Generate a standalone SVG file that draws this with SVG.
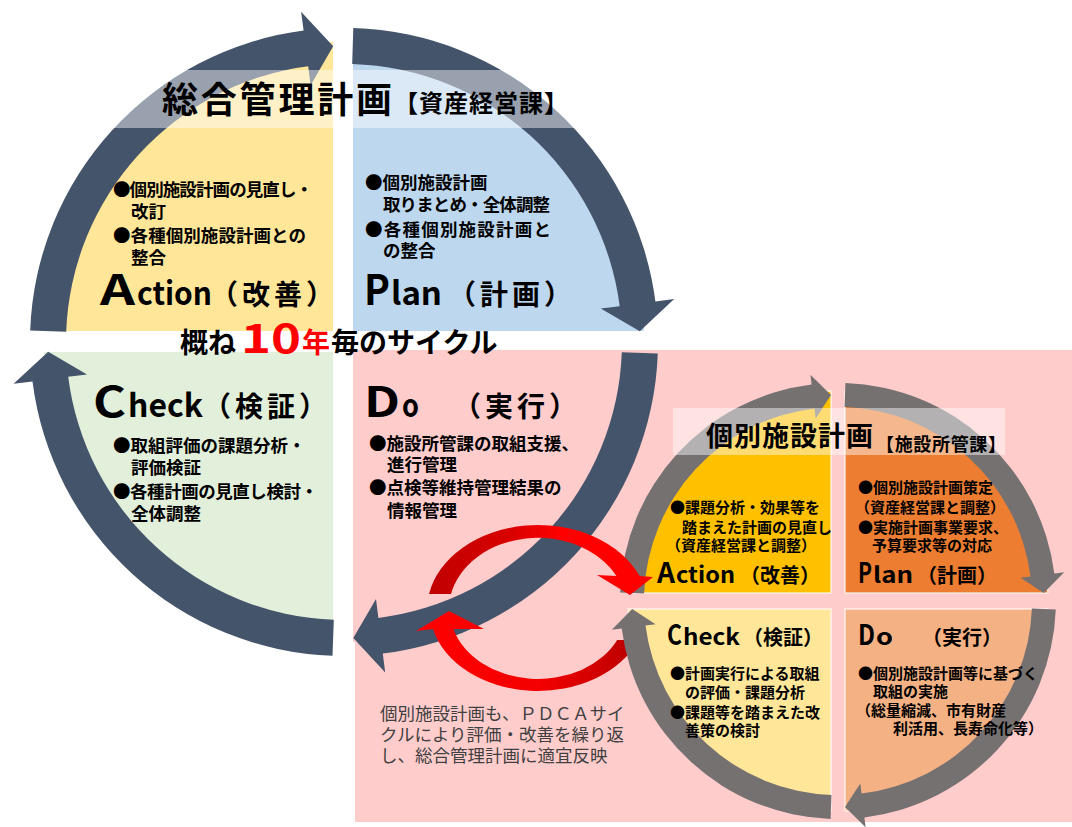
<svg xmlns="http://www.w3.org/2000/svg" width="1072" height="827" viewBox="0 0 1072 827">
<style>
.t{font-family:"Noto Sans CJK JP","Noto Sans",sans-serif;font-weight:700;fill:#000}
.b17{font-size:17.5px}
.b15{font-size:15px}
.cap{font-size:42px}
.low{font-size:32px}
.par{font-size:28px}
.scap{font-size:28px}
.slow{font-size:22px}
.spar{font-size:20px}
.ring{fill:#44546a}
.gring{fill:#767171}
.band{fill:#fff;fill-opacity:.45}
.sq{stroke:#fff;stroke-opacity:.7;stroke-width:1.5}
.note{font-family:"Noto Sans CJK JP","Noto Sans",sans-serif;font-size:17.5px;fill:#404040}
</style>
<defs>
<linearGradient id="redUp" x1="0" y1="0" x2="1" y2="0">
<stop offset="0" stop-color="#c00000"/><stop offset="0.35" stop-color="#d80000"/><stop offset="0.6" stop-color="#ff0000"/><stop offset="1" stop-color="#ff0000"/>
</linearGradient>
<linearGradient id="redLow" x1="0" y1="0" x2="1" y2="0">
<stop offset="0" stop-color="#ff0000"/><stop offset="0.55" stop-color="#f40000"/><stop offset="1" stop-color="#b80000"/>
</linearGradient>
</defs>
<rect width="1072" height="827" fill="#fff"/>
<g id="region-individual"><rect x="355" y="350" width="717" height="472" fill="#ffcccc"/></g>
<g id="big-action"><path d="M333,331 L44,331 A300,300 0 0 1 333,42 Z" fill="#ffe699"/></g>
<g id="big-plan"><path d="M353,331 L353,42 A300,300 0 0 1 644,331 Z" fill="#bdd7ee"/></g>
<g id="big-check"><path d="M333,352 L333,642 A300,300 0 0 1 44,352 Z" fill="#e2efda"/></g>
<g id="big-do"><path d="M353,352 L644,352 A300,300 0 0 1 353,642 Z" fill="#ffcccc"/></g>
<g id="small-action"><path class="sq" d="M831,593 L628.2,593 A210,210 0 0 1 831,391.1 Z" fill="#ffc000"/></g>
<g id="small-plan"><path class="sq" d="M845,593 L845,391.1 A210,210 0 0 1 1047.8,593 Z" fill="#ed7d31"/></g>
<g id="small-check"><path class="sq" d="M831,609 L831,810.9 A210,210 0 0 1 628.2,609 Z" fill="#ffe699"/></g>
<g id="small-do"><path class="sq" d="M845,609 L1047.8,609 A210,210 0 0 1 845,810.9 Z" fill="#f4b183"/></g>
<g id="connectors">
<g id="cycle-big">
<path class="ring" d="M30.2,330.5 A314,314 0 0 1 303.6,30.6 L301.1,11.8 L333.2,46.2 L310.6,85.2 L308.2,66.3 A278,278 0 0 0 66.2,331.8 Z"/>
<path class="ring" d="M353.3,28.1 A314,314 0 0 1 655.4,301.6 L674.2,299.1 L639.8,331.2 L600.8,308.6 L619.7,306.2 A278,278 0 0 0 352.2,64.1 Z"/>
<path class="ring" d="M657.8,353.5 A314,314 0 0 1 382.8,653.6 L385.2,672.4 L353.3,637.9 L376,599 L378.4,617.9 A278,278 0 0 0 621.8,352.2 Z"/>
<path class="ring" d="M332.5,655.8 A314,314 0 0 1 32.5,381.4 L13.6,383.7 L48.2,351.8 L87,374.5 L68.2,376.8 A278,278 0 0 0 333.8,619.8 Z"/>
</g>
<path id="red-lower" fill="url(#redLow)" d="M638.3,640 A108,81 0 0 1 433,629 L416,631 L449,611 L484,629 L453.4,629 A88,69 0 0 0 617.2,640 Z"/>
<g id="cycle-small">
<path class="gring" d="M620.2,592.5 A218,218 0 0 1 811.6,384.6 L810.4,374.7 L831,395.1 L815.7,418.4 L814.5,408.4 A194,194 0 0 0 644.1,593.5 Z"/>
<path class="gring" d="M845.4,383.1 A218,218 0 0 1 1054.3,573.6 L1064.2,572.3 L1043.8,593 L1020.5,577.8 L1030.5,576.6 A194,194 0 0 0 844.6,407.1 Z"/>
<path class="gring" d="M1055.8,609.5 A218,218 0 0 1 864.4,817.4 L865.6,827.3 L845,806.9 L860.3,783.6 L861.5,793.6 A194,194 0 0 0 1031.9,608.5 Z"/>
<path class="gring" d="M830.6,818.9 A218,218 0 0 1 621.7,628.4 L611.8,629.7 L632.2,609 L655.5,624.2 L645.5,625.4 A194,194 0 0 0 831.4,794.9 Z"/>
</g>
<path id="red-upper" fill="url(#redUp)" d="M429,594 A111,85 0 0 1 639.7,576 L653,577 L630,595 L597,575 L616.4,576 A89,72 0 0 0 451,594 Z"/>
</g>
<g id="title-big">
<rect class="band" x="60" y="70" width="568" height="58"/>
<text class="t" x="162" y="113" font-size="36" textLength="230">総合管理計画</text>
<text class="t" x="394" y="112" font-size="24" textLength="174">【資産経営課】</text>
</g>
<g id="title-small">
<rect class="band" x="673" y="408" width="332" height="47"/>
<text class="t" x="706" y="446" font-size="27" textLength="167">個別施設計画</text>
<text class="t" x="876" y="451" font-size="18" textLength="130">【施設所管課】</text>
</g>
<g id="big-action-text">
<text class="t b17" x="113" y="195.5" textLength="200">●個別施設計画の見直し・</text>
<text class="t b17" x="131" y="217.5">改訂</text>
<text class="t b17" x="113" y="241.5" textLength="193">●各種個別施設計画との</text>
<text class="t b17" x="131" y="263.5">整合</text>
<text class="t cap" x="100" y="305" textLength="35" lengthAdjust="spacingAndGlyphs">A</text>
<text class="t low" x="137" y="305" textLength="75" lengthAdjust="spacingAndGlyphs">ction</text>
<text class="t par" x="210" y="305" textLength="124">（改善）</text>
</g>
<g id="big-plan-text">
<text class="t b17" x="365" y="188.5">●個別施設計画</text>
<text class="t b17" x="383" y="210.5" textLength="167">取りまとめ・全体調整</text>
<text class="t b17" x="365" y="235.5" textLength="186">●各種個別施設計画と</text>
<text class="t b17" x="383" y="256.5">の整合</text>
<text class="t cap" x="364" y="305" textLength="26" lengthAdjust="spacingAndGlyphs">P</text>
<text class="t low" x="391" y="305" textLength="51" lengthAdjust="spacingAndGlyphs">lan</text>
<text class="t par" x="448" y="305" textLength="124">（計画）</text>
</g>
<g id="cycle-label">
<text class="t" x="180" y="353" font-size="28">概ね</text>
<text class="t" x="241" y="353" font-size="40" style="fill:#ff0000" textLength="60" lengthAdjust="spacingAndGlyphs">10</text>
<text class="t" x="302" y="353" font-size="28" style="fill:#ff0000">年</text>
<text class="t" x="331" y="353" font-size="28">毎のサイクル</text>
</g>
<g id="big-check-text">
<text class="t cap" x="93" y="417" textLength="33" lengthAdjust="spacingAndGlyphs">C</text>
<text class="t low" x="128" y="417" textLength="75" lengthAdjust="spacingAndGlyphs">heck</text>
<text class="t par" x="203" y="417" textLength="124">（検証）</text>
<text class="t b17" x="113" y="451.5">●取組評価の課題分析・</text>
<text class="t b17" x="131" y="473.5">評価検証</text>
<text class="t b17" x="113" y="497.5" textLength="205">●各種計画の見直し検討・</text>
<text class="t b17" x="131" y="519.5">全体調整</text>
</g>
<g id="big-do-text">
<text class="t cap" x="364" y="417" textLength="36" lengthAdjust="spacingAndGlyphs">D</text>
<text class="t low" x="402" y="417" textLength="17" lengthAdjust="spacingAndGlyphs">o</text>
<text class="t par" x="453" y="417" textLength="124">（実行）</text>
<text class="t b17" x="369" y="449.5">●施設所管課の取組支援、</text>
<text class="t b17" x="387" y="470.5">進行管理</text>
<text class="t b17" x="369" y="493.5">●点検等維持管理結果の</text>
<text class="t b17" x="387" y="516.5">情報管理</text>
</g>
<g id="small-action-text">
<text class="t b15" x="670" y="512.5">●課題分析・効果等を</text>
<text class="t b15" x="682" y="532.5">踏まえた計画の見直し</text>
<text class="t b15" x="666" y="550.5">（資産経営課と調整）</text>
<text class="t scap" x="657" y="583" textLength="18" lengthAdjust="spacingAndGlyphs">A</text>
<text class="t slow" x="676" y="583" textLength="59" lengthAdjust="spacingAndGlyphs">ction</text>
<text class="t spar" x="740" y="583" textLength="80">（改善）</text>
</g>
<g id="small-plan-text">
<text class="t b15" x="858" y="492.5">●個別施設計画策定</text>
<text class="t b15" x="855" y="512.5">（資産経営課と調整）</text>
<text class="t b15" x="858" y="532.5">●実施計画事業要求、</text>
<text class="t b15" x="872" y="550.5">予算要求等の対応</text>
<text class="t scap" x="858" y="583" textLength="14" lengthAdjust="spacingAndGlyphs">P</text>
<text class="t slow" x="873" y="583" textLength="40" lengthAdjust="spacingAndGlyphs">lan</text>
<text class="t spar" x="917" y="583" textLength="80">（計画）</text>
</g>
<g id="small-check-text">
<text class="t scap" x="667" y="645" textLength="15" lengthAdjust="spacingAndGlyphs">C</text>
<text class="t slow" x="683" y="645" textLength="57" lengthAdjust="spacingAndGlyphs">heck</text>
<text class="t spar" x="743" y="645" textLength="80">（検証）</text>
<text class="t b15" x="670" y="678.5">●計画実行による取組</text>
<text class="t b15" x="685" y="698">の評価・課題分析</text>
<text class="t b15" x="670" y="717.5">●課題等を踏まえた改</text>
<text class="t b15" x="685" y="736">善策の検討</text>
</g>
<g id="small-do-text">
<text class="t scap" x="858" y="645" textLength="17" lengthAdjust="spacingAndGlyphs">D</text>
<text class="t slow" x="876" y="645" textLength="17" lengthAdjust="spacingAndGlyphs">o</text>
<text class="t spar" x="922" y="645" textLength="80">（実行）</text>
<text class="t b15" x="858" y="678.5">●個別施設計画等に基づく</text>
<text class="t b15" x="873" y="696.5">取組の実施</text>
<text class="t b15" x="856" y="715.5">（総量縮減、市有財産</text>
<text class="t b15" x="893" y="733.5">利活用、長寿命化等）</text>
</g>
<g id="note">
<text class="note" x="380" y="720">個別施設計画も、ＰＤＣＡサイ</text>
<text class="note" x="380" y="741">クルにより評価・改善を繰り返</text>
<text class="note" x="380" y="762">し、総合管理計画に適宜反映</text>
</g>
</svg>
